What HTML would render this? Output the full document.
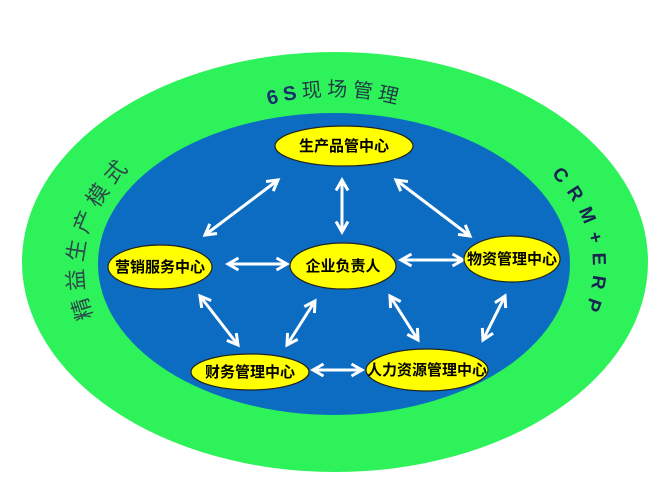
<!DOCTYPE html>
<html><head><meta charset="utf-8"><style>
html,body{margin:0;padding:0;background:#fff;}
svg{display:block}
.n{font-family:"Liberation Sans","Noto Sans CJK SC",sans-serif;font-weight:bold;font-size:15px;fill:#000;text-anchor:middle;}
</style></head><body>
<svg width="659" height="494" viewBox="0 0 659 494" xmlns="http://www.w3.org/2000/svg">
<defs>
<marker id="a" viewBox="0 0 10 10" refX="8" refY="5" markerWidth="5" markerHeight="5" orient="auto-start-reverse">
<path d="M1,1 L8,5 L1,9" fill="none" stroke="#fff" stroke-width="2"/>
</marker>
<path id="pt" d="M 130,268 A 205,172 0 0,1 540,268"/>
<path id="pl" d="M 335,440 A 252,172 0 0,1 83,268 A 252,172 0 0,1 335,96"/>
<path id="pr" d="M 335,96 A 258,172 0 0,1 593,268 A 258,172 0 0,1 335,440"/>
</defs>
<ellipse cx="335" cy="262" rx="313" ry="210" fill="#2ef25a"/>
<ellipse cx="334" cy="264" rx="236" ry="151" fill="#0b6cc2"/>
<text font-family="Liberation Sans,Noto Sans CJK SC,sans-serif" font-size="20" fill="#1f3a44" letter-spacing="5"><textPath href="#pt" startOffset="50%" text-anchor="middle"><tspan font-weight="bold" fill="#1a2f6e">6S</tspan>现场管理</textPath></text>
<text font-family="Liberation Sans,Noto Sans CJK SC,sans-serif" font-size="22" fill="#2c4a4a" letter-spacing="6"><textPath href="#pl" startOffset="55%" text-anchor="middle">精益生产模式</textPath></text>
<text font-family="Liberation Sans,Noto Sans CJK SC,sans-serif" font-size="19" font-weight="bold" fill="#1a2250" letter-spacing="9"><textPath href="#pr" startOffset="46%" text-anchor="middle">CRM+ERP</textPath></text>
<g stroke="#fff" stroke-width="3" marker-start="url(#a)" marker-end="url(#a)">
<line x1="278" y1="180" x2="205" y2="235"/>
<line x1="342" y1="180" x2="342" y2="232"/>
<line x1="396" y1="180" x2="470" y2="236"/>
<line x1="228" y1="264" x2="287" y2="264"/>
<line x1="401" y1="260" x2="463" y2="260"/>
<line x1="200" y1="296" x2="238" y2="345"/>
<line x1="315" y1="301" x2="287" y2="345"/>
<line x1="390" y1="296" x2="418" y2="340"/>
<line x1="505" y1="296" x2="483" y2="340"/>
<line x1="313" y1="370" x2="362" y2="370"/>
</g>
<g fill="#ffff00" stroke="#222" stroke-width="1.2">
<ellipse cx="344" cy="146" rx="69" ry="20"/>
<ellipse cx="160" cy="267" rx="52" ry="22"/>
<ellipse cx="343" cy="266" rx="53" ry="23"/>
<ellipse cx="512" cy="259" rx="48" ry="23"/>
<ellipse cx="250" cy="372" rx="59" ry="18"/>
<ellipse cx="427" cy="370" rx="61" ry="21"/>
</g>
<text class="n" x="344" y="151">生产品管中心</text>
<text class="n" x="160" y="272">营销服务中心</text>
<text class="n" x="343" y="271">企业负责人</text>
<text class="n" x="512" y="264" font-size="14">物资管理中心</text>
<text class="n" x="250" y="377">财务管理中心</text>
<text class="n" x="427" y="375" font-size="14">人力资源管理中心</text>
</svg>
</body></html>
